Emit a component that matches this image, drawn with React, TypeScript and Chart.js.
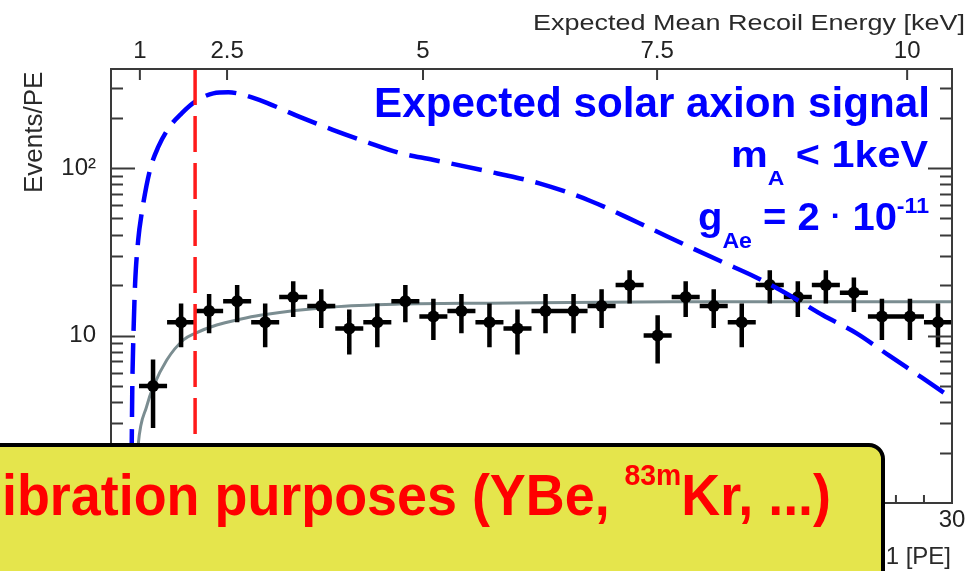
import React, { useEffect, useRef } from 'react';
import { Chart, registerables } from 'chart.js';

Chart.register(...registerables);

const FONT = '"Liberation Sans", Arial, Helvetica, sans-serif';

// S1 spectrum: bin centres [PE], events per PE and statistical errors
const binCentersPE = [1.5, 2.5, 3.5, 4.5, 5.5, 6.5, 7.5, 8.5, 9.5, 10.5, 11.5, 12.5, 13.5, 14.5, 15.5, 16.5, 17.5, 18.5, 19.5, 20.5, 21.5, 22.5, 23.5, 24.5, 25.5, 26.5, 27.5, 28.5, 29.5];
const eventsPerPE = [5.0, 12, 14, 16, 12, 17, 15, 11, 12, 16, 13, 14, 12, 11, 14, 14, 15, 20, 10, 17, 15, 12, 20, 17, 20, 18, 13, 13, 12];
const eventsErr = [2.2, 3.5, 3.7, 4.0, 3.5, 4.1, 3.9, 3.3, 3.5, 4.0, 3.6, 3.7, 3.5, 3.3, 3.7, 3.7, 3.9, 4.5, 3.2, 4.1, 3.9, 3.5, 4.5, 4.1, 4.5, 4.2, 3.6, 3.6, 3.5];
const binHalfWidthPE = 0.5;

// Background fit curve
const fitPE = [0.85, 0.97, 1.27, 1.51, 1.99, 2.58, 3.0, 3.77, 4.6, 5.32, 7.9, 10.3, 13.5, 20, 30];
const fitValues = [1.0, 2.22, 3.76, 4.95, 7.14, 9.4, 10.3, 11.55, 12.5, 13.2, 14.8, 15.4, 15.6, 15.9, 15.9];

// Expected solar axion signal (m_A < 1 keV, g_Ae = 2e-11)
const signalPE = [0.72, 0.74, 0.76, 0.8, 0.86, 0.97, 1.09, 1.39, 1.69, 2.1, 2.52, 3.0, 3.65, 4.19, 4.6, 5.0, 5.56, 6.73, 7.91, 9.12, 10.3, 11.48, 13.25, 15.28, 17.06, 18.85, 20.6, 21.8, 23.0, 24.2, 25.4, 26.6, 27.75, 28.93, 29.96];
const signalValues = [1.0, 2.27, 4.95, 10, 20.4, 37.1, 53, 97.3, 134, 177, 212, 249, 279, 283, 277, 265, 245, 202, 169, 143, 123, 112, 97, 81, 64, 46.8, 34, 27.5, 22.3, 17.4, 13.2, 10.3, 7.6, 5.6, 4.27];

// Analysis threshold [PE]
const thresholdPE = 3;

// Top axis: recoil energy [keV] and the S1 [PE] where each sits
const energyTickPE = [1.03, 4.14, 11.13, 19.48, 28.4];
const energyTickLabels = ['1', '2.5', '5', '7.5', '10'];

type Seg = { t: string; s: number; dy?: number; w?: string };

function drawRich(ctx: CanvasRenderingContext2D, segs: Seg[], left: number, right: number, baseline: number, color: string, weight = 'bold') {
  ctx.save();
  const widths = segs.map((g) => {
    ctx.font = `${g.w || weight} ${g.s}px ${FONT}`;
    return ctx.measureText(g.t).width;
  });
  const total = widths.reduce((a, b) => a + b, 0);
  const sx = (right - left) / total;
  ctx.translate(left, baseline);
  ctx.scale(sx, 1);
  ctx.fillStyle = color;
  ctx.textBaseline = 'alphabetic';
  ctx.textAlign = 'left';
  let x = 0;
  segs.forEach((g, i) => {
    ctx.font = `${g.w || weight} ${g.s}px ${FONT}`;
    ctx.fillText(g.t, x, g.dy || 0);
    x += widths[i];
  });
  ctx.restore();
}

const errorBarPlugin = {
  id: 'errorBars',
  afterDatasetDraw(chart: any, args: any) {
    const ds = chart.data.datasets[args.index];
    if (!ds.isSpectrum) return;
    const { ctx } = chart;
    const xs = chart.scales.x;
    const ys = chart.scales.y;
    ctx.save();
    ctx.strokeStyle = '#000';
    ctx.lineWidth = 4.5;
    ctx.beginPath();
    binCentersPE.forEach((c, i) => {
      const v = eventsPerPE[i];
      const e = eventsErr[i];
      const px = xs.getPixelForValue(c);
      const py = ys.getPixelForValue(v);
      ctx.moveTo(xs.getPixelForValue(c - binHalfWidthPE), py);
      ctx.lineTo(xs.getPixelForValue(c + binHalfWidthPE), py);
      ctx.moveTo(px, ys.getPixelForValue(v + e));
      ctx.lineTo(px, ys.getPixelForValue(v - e));
    });
    ctx.stroke();
    ctx.restore();
  },
};

const frameTicksPlugin = {
  id: 'frameTicks',
  afterDatasetsDraw(chart: any) {
    const { ctx, chartArea: a, scales } = chart;
    ctx.save();
    ctx.strokeStyle = '#3a3a3a';
    ctx.lineWidth = 2;
    ctx.strokeRect(a.left, a.top, a.right - a.left, a.bottom - a.top);
    ctx.beginPath();
    for (const t of scales.y.ticks) {
      const v = t.value;
      const e = Math.floor(Math.log10(v) + 1e-9);
      const m = v / Math.pow(10, e);
      if (Math.abs(m - Math.round(m)) > 1e-6) continue;
      const py = Math.round(scales.y.getPixelForValue(v)) + 0.5;
      if (py <= a.top + 2 || py >= a.bottom - 2) continue;
      const len = Math.round(m) === 1 ? 24 : 12;
      ctx.moveTo(a.left, py);
      ctx.lineTo(a.left + len, py);
      ctx.moveTo(a.right, py);
      ctx.lineTo(a.right - len, py);
    }
    for (const t of scales.x.ticks) {
      const px = scales.x.getPixelForValue(t.value);
      if (px <= a.left + 2 || px >= a.right - 2) continue;
      const len = t.value % 5 === 0 ? 15 : 8;
      ctx.moveTo(px, a.bottom);
      ctx.lineTo(px, a.bottom - len);
    }
    for (const t of scales.x2.ticks) {
      const px = scales.x2.getPixelForValue(t.value);
      ctx.moveTo(px, a.top);
      ctx.lineTo(px, a.top + 11);
    }
    ctx.stroke();
    ctx.restore();
  },
};

const annotationPlugin = {
  id: 'annotations',
  afterDraw(chart: any) {
    const { ctx } = chart;
    // axis titles
    drawRich(ctx, [{ t: 'Expected Mean Recoil Energy [keV]', s: 22 }], 533, 965, 30, '#2a2a2a', 'normal');
    ctx.save();
    ctx.font = `normal 26px ${FONT}`;
    ctx.fillStyle = '#2a2a2a';
    ctx.translate(42, 193);
    ctx.rotate(-Math.PI / 2);
    ctx.textAlign = 'left';
    ctx.textBaseline = 'alphabetic';
    ctx.fillText('Events/PE', 0, 0);
    ctx.restore();
    ctx.save();
    ctx.font = `normal 24px ${FONT}`;
    ctx.fillStyle = '#2a2a2a';
    ctx.textAlign = 'right';
    ctx.textBaseline = 'alphabetic';
    ctx.fillText('S1 [PE]', 951, 564);
    ctx.restore();

    // signal legend text
    const blue = '#0000ff';
    drawRich(ctx, [{ t: 'Expected solar axion signal', s: 42 }], 374, 930, 117, blue);
    drawRich(ctx, [{ t: 'm', s: 36 }, { t: 'A', s: 20, dy: 18 }, { t: ' < 1keV', s: 36 }], 731, 928, 167, blue);
    drawRich(
      ctx,
      [
        { t: 'g', s: 38 },
        { t: 'Ae', s: 22, dy: 18 },
        { t: ' = 2 ', s: 38 },
        { t: '\u00b7', s: 30, dy: -4 },
        { t: ' 10', s: 38 },
        { t: '-11', s: 22, dy: -17 },
      ],
      698,
      929,
      230,
      blue,
    );

    // highlighted note box
    ctx.save();
    ctx.beginPath();
    ctx.roundRect(-30, 445, 30 + 883, 200, 14);
    ctx.fillStyle = '#e5e54c';
    ctx.fill();
    ctx.lineWidth = 4;
    ctx.strokeStyle = '#000';
    ctx.stroke();
    ctx.restore();
    drawRich(
      ctx,
      [
        { t: 'ibration purposes (YBe, ', s: 57 },
        { t: '83m', s: 30, dy: -30 },
        { t: 'Kr, ...)', s: 57 },
      ],
      2,
      831,
      515,
      '#ff0000',
    );
  },
};

const tickFont = { family: FONT, size: 24 };

export default function App() {
  const ref = useRef<HTMLCanvasElement>(null);

  useEffect(() => {
    const chart = new Chart(ref.current as HTMLCanvasElement, {
      type: 'scatter',
      data: {
        datasets: [
          {
            type: 'line',
            label: 'threshold',
            data: [
              { x: thresholdPE, y: 390 },
              { x: thresholdPE, y: 1 },
            ],
            borderColor: '#ff1a1a',
            borderWidth: 3.5,
            borderDash: [36, 11],
            pointRadius: 0,
          },
          {
            type: 'line',
            label: 'signal',
            data: signalPE.map((x, i) => ({ x, y: signalValues[i] })),
            borderColor: '#0000ff',
            borderWidth: 4.5,
            borderDash: [31, 12],
            cubicInterpolationMode: 'monotone',
            pointRadius: 0,
          },
          {
            label: 'data',
            isSpectrum: true,
            data: binCentersPE.map((x, i) => ({ x, y: eventsPerPE[i] })),
            pointRadius: 6,
            pointBackgroundColor: '#000',
            pointBorderWidth: 0,
            showLine: false,
          } as any,
          {
            type: 'line',
            label: 'fit',
            data: fitPE.map((x, i) => ({ x, y: fitValues[i] })),
            borderColor: '#7b8d91',
            borderWidth: 3,
            cubicInterpolationMode: 'monotone',
            pointRadius: 0,
          },
        ],
      },
      options: {
        animation: false,
        responsive: false,
        devicePixelRatio: 1,
        events: [],
        layout: { padding: { left: 0, right: 26, top: 0, bottom: 0 } },
        plugins: { legend: { display: false }, tooltip: { enabled: false }, title: { display: false } },
        scales: {
          x: {
            type: 'linear',
            position: 'bottom',
            min: 0,
            max: 30,
            grid: { display: false, drawTicks: false },
            border: { display: false },
            ticks: {
              stepSize: 1,
              maxTicksLimit: 40,
              autoSkip: false,
              maxRotation: 0,
              padding: 3,
              font: tickFont,
              color: '#222',
              callback: (v: any) => (Number(v) % 5 === 0 ? String(v) : ''),
            },
            afterFit: (s: any) => {
              s.height = 68;
            },
          },
          x2: {
            type: 'linear',
            position: 'top',
            min: 0,
            max: 30,
            grid: { display: false, drawTicks: false },
            border: { display: false },
            afterBuildTicks: (s: any) => {
              s.ticks = energyTickPE.map((value) => ({ value }));
            },
            ticks: {
              autoSkip: false,
              maxRotation: 0,
              padding: 3,
              font: tickFont,
              color: '#222',
              callback: (_v: any, i: number) => energyTickLabels[i],
            },
            afterFit: (s: any) => {
              s.height = 69;
            },
          },
          y: {
            type: 'logarithmic',
            position: 'left',
            min: 1,
            max: 390,
            grid: { display: false, drawTicks: false },
            border: { display: false },
            ticks: {
              autoSkip: false,
              padding: 15,
              font: tickFont,
              color: '#222',
              callback: (v: any) => {
                const l = Math.log10(Number(v));
                if (Math.abs(l - 1) < 1e-6) return '10';
                if (Math.abs(l - 2) < 1e-6) return '10\u00b2';
                return '';
              },
            },
            afterFit: (s: any) => {
              s.width = 111;
            },
          },
        },
      } as any,
      plugins: [errorBarPlugin, frameTicksPlugin, annotationPlugin],
    });
    return () => chart.destroy();
  }, []);

  return (
    <div style={{ position: 'absolute', left: 0, top: 0, width: 978, height: 571, background: '#fff' }}>
      <canvas ref={ref} width={978} height={571} style={{ display: 'block', width: 978, height: 571 }} />
    </div>
  );
}
